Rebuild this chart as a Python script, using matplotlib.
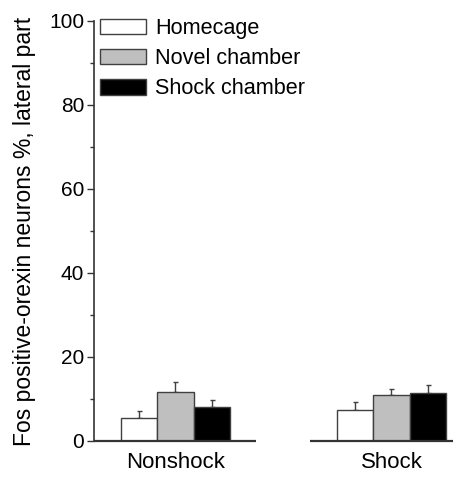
import matplotlib
matplotlib.use("Agg")
import matplotlib.pyplot as plt
import numpy as np

plt.rcParams['font.family'] = ['Liberation Sans', 'DejaVu Sans']

groups = ["Nonshock", "Shock"]
conditions = ["Homecage", "Novel chamber", "Shock chamber"]
colors = ["white", "#bfbfbf", "black"]
means = {
    "Homecage": [5.4, 7.4],
    "Novel chamber": [11.7, 11.0],
    "Shock chamber": [8.0, 11.4],
}
errors = {
    "Homecage": [1.7, 2.0],
    "Novel chamber": [2.4, 1.5],
    "Shock chamber": [1.8, 2.0],
}
yticks = [0, 20, 40, 60, 80, 100]

axis_color = "#333333"
fig = plt.figure(figsize=(4.53, 4.8), dpi=100)
W, H = 453, 480
ax = fig.add_axes([94 / W, 1 - 441 / H, (W - 94) / W, (441 - 21) / H])

x = np.arange(len(groups))
width = 0.169
handles = []
for i, cond in enumerate(conditions):
    pos = x + (i - 1) * width
    b = ax.bar(pos, means[cond], width, color=colors[i], edgecolor="#404040",
               linewidth=1.0, label=cond, zorder=2)
    ax.errorbar(pos, means[cond], yerr=[np.zeros(len(groups)), errors[cond]],
                fmt="none", ecolor="#404040", elinewidth=1.0, capsize=1.8,
                capthick=1.0, zorder=1)
    handles.append(b)

ax.set_xlim(-0.377, 1.285)
ax.set_ylim(0, 100)
ax.set_yticks(yticks)
ax.set_yticks(np.arange(10, 100, 20), minor=True)
ax.set_xticks(x)
ax.set_xticklabels(groups, fontsize=16)

for side in ["top", "right", "bottom"]:
    ax.spines[side].set_visible(False)
ax.spines["left"].set_color(axis_color)
ax.spines["left"].set_linewidth(1.2)

# broken baseline, one segment per group
for g in x:
    ax.hlines(0, g - 0.375, g + 0.375, color=axis_color, linewidth=1.6,
              clip_on=False, zorder=3)

ax.tick_params(axis="y", which="major", direction="out", length=5, width=1.0,
               color=axis_color, labelsize=15, pad=2)
ax.tick_params(axis="y", which="minor", direction="out", length=3, width=1.0,
               color=axis_color)
ax.tick_params(axis="x", which="both", length=0, pad=8)

ax.set_ylabel("Fos positive-orexin neurons %, lateral part", fontsize=16.5)
ax.yaxis.set_label_coords(-0.162, 0.5)

leg = ax.legend(handles=handles, labels=conditions, loc="upper left",
                bbox_to_anchor=(100 / W, 1 - 18 / H),
                bbox_transform=fig.transFigure, frameon=False, fontsize=15.6,
                handlelength=2.1, handleheight=0.75, handletextpad=0.45,
                labelspacing=0.42, borderpad=0, borderaxespad=0)

fig.savefig("out.png", dpi=100)
